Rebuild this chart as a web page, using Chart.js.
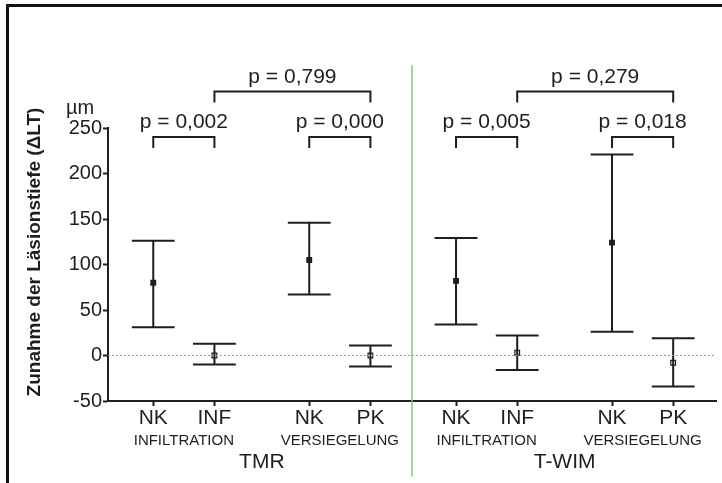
<!DOCTYPE html>
<html>
<head>
<meta charset="utf-8">
<script src="https://cdn.jsdelivr.net/npm/chart.js@4.4.1/dist/chart.umd.min.js"></script>
<style>
  html, body { margin: 0; padding: 0; background: #fff; }
  #wrap { position: relative; width: 722px; height: 483px; }
  #frame { position: absolute; left: 6px; top: 4px; right: 0; bottom: 0; border-top: 3px solid #111; border-left: 3px solid #111; pointer-events: none; }
</style>
</head>
<body>
<div id="wrap">
  <canvas id="chart" width="722" height="483"></canvas>
  <div id="frame"></div>
</div>
<script>
const categories = ['NK', 'INF', 'NK', 'PK', 'NK', 'INF', 'NK', 'PK'];
const xPositions = [1, 2, 3.55, 4.55, 5.95, 6.95, 8.5, 9.5];
const means = [80, 0, 105, 0, 82, 3, 124, -8];
const upper = [126, 13, 146, 11, 129, 22, 221, 19];
const lower = [31, -10, 67, -12, 34, -16, 26, -34];
const filledMarker = [true, false, true, false, true, false, true, false];

const groupLabels = ['INFILTRATION', 'VERSIEGELUNG', 'INFILTRATION', 'VERSIEGELUNG'];
const groupPositions = [1.5, 4.05, 6.45, 9.0];
const methodLabels = ['TMR', 'T-WIM'];
const methodPositions = [2.775, 7.725];

const yTicks = [-50, 0, 50, 100, 150, 200, 250];

// significance brackets (indices into categories)
const pTexts = ['p = 0,002', 'p = 0,000', 'p = 0,799', 'p = 0,005', 'p = 0,018', 'p = 0,279'];
const pFrom = [0, 2, 1, 4, 6, 5];
const pTo = [1, 3, 3, 5, 7, 7];
const pLevel = [240, 240, 290, 240, 240, 290];

const capHalf = 0.35;
const legDrop = 12;
const xMin = 0.26, xMax = 10.2;
const dividerX = 5.23;

const INK = '#1e1e1e';
const FONT = '"Liberation Sans", Arial, sans-serif';
Chart.defaults.font.family = FONT;

// whiskers: vertical line + two caps per category, gaps between pieces
const whiskerData = [];
xPositions.forEach((x, i) => {
    whiskerData.push({ x: x, y: lower[i] }, { x: x, y: upper[i] }, { x: x, y: null });
    whiskerData.push({ x: x - capHalf, y: upper[i] }, { x: x + capHalf, y: upper[i] }, { x: x, y: null });
    whiskerData.push({ x: x - capHalf, y: lower[i] }, { x: x + capHalf, y: lower[i] }, { x: x, y: null });
});

const bracketData = [];
pTexts.forEach((t, i) => {
    const a = xPositions[pFrom[i]], b = xPositions[pTo[i]];
    bracketData.push({ x: a, y: pLevel[i] - legDrop }, { x: a, y: pLevel[i] },
        { x: b, y: pLevel[i] }, { x: b, y: pLevel[i] - legDrop }, { x: b, y: null });
});

const textPlugin = {
    id: 'texts',
    afterDraw(chart) {
        const ctx = chart.ctx;
        const xs = chart.scales.x, ys = chart.scales.y;
        ctx.save();
        ctx.fillStyle = INK;
        ctx.textAlign = 'center';
        ctx.textBaseline = 'middle';
        ctx.font = '21px ' + FONT;
        pTexts.forEach((t, i) => {
            const mid = (xPositions[pFrom[i]] + xPositions[pTo[i]]) / 2;
            ctx.fillText(t, xs.getPixelForValue(mid), ys.getPixelForValue(pLevel[i] + 16));
        });
        ctx.font = '20px ' + FONT;
        ctx.textAlign = 'left';
        ctx.fillText('µm', chart.chartArea.left - 42, ys.getPixelForValue(250) - 20);

        ctx.textAlign = 'center';
        ctx.translate(35, 252);
        ctx.rotate(-Math.PI / 2);
        ctx.font = 'bold 19px ' + FONT;
        ctx.fillText('Zunahme der Läsionstiefe (ΔLT)', 0, 0);
        ctx.restore();
    }
};

const tickAxis = (positions, labels, size, height, weight, pad) => ({
    type: 'linear',
    position: 'bottom',
    weight: weight,
    min: xMin,
    max: xMax,
    afterBuildTicks: (s) => { s.ticks = positions.map(v => ({ value: v })); },
    afterFit: (s) => { s.height = height; },
    grid: { display: false },
    border: { display: false },
    ticks: {
        autoSkip: false,
        maxRotation: 0,
        padding: pad,
        color: INK,
        font: { size: size },
        callback: (v, i) => labels[i]
    }
});

new Chart(document.getElementById('chart'), {
    type: 'line',
    data: {
        datasets: [
            {
                data: [{ x: xMin, y: 0 }, { x: xMax, y: 0 }],
                borderColor: 'rgb(90,180,190)',
                borderWidth: 1,
                borderDash: [2, 2],
                pointRadius: 0
            },
            {
                data: [{ x: dividerX, y: 319 }, { x: dividerX, y: -133 }],
                borderColor: 'rgb(140,195,120)',
                borderWidth: 1.5,
                pointRadius: 0,
                clip: false
            },
            {
                data: whiskerData,
                borderColor: INK,
                borderWidth: 2,
                pointRadius: 0,
                spanGaps: false
            },
            {
                data: bracketData,
                borderColor: INK,
                borderWidth: 2,
                pointRadius: 0,
                spanGaps: false,
                clip: false
            },
            {
                data: xPositions.map((x, i) => ({ x: x, y: means[i] })),
                showLine: false,
                pointStyle: 'rect',
                pointRadius: 3.3,
                pointBackgroundColor: filledMarker.map(f => f ? INK : '#fff'),
                pointBorderColor: INK,
                pointBorderWidth: 1.2
            }
        ]
    },
    options: {
        responsive: false,
        animation: false,
        layout: { padding: { top: 128, right: 6, bottom: 0, left: 0 } },
        plugins: { legend: { display: false }, tooltip: { enabled: false } },
        scales: {
            x: {
                type: 'linear',
                min: xMin,
                max: xMax,
                afterBuildTicks: (s) => { s.ticks = xPositions.map(v => ({ value: v })); },
                afterFit: (s) => { s.height = 23; },
                grid: { drawOnChartArea: false, tickLength: 5, tickWidth: 2, tickColor: INK },
                border: { color: INK, width: 2 },
                ticks: {
                    autoSkip: false,
                    maxRotation: 0,
                    padding: 0,
                    color: INK,
                    font: { size: 21 },
                    callback: (v, i) => categories[i]
                }
            },
            x2: tickAxis(groupPositions, groupLabels, 15, 24, 1, 0),
            x3: tickAxis(methodPositions, methodLabels, 21, 35, 2, -6),
            y: {
                min: -50,
                max: 250,
                afterBuildTicks: (s) => { s.ticks = yTicks.map(v => ({ value: v })); },
                afterFit: (s) => { s.width = 108; },
                grid: { drawOnChartArea: false, tickLength: 5, tickWidth: 2, tickColor: INK },
                border: { color: INK, width: 2 },
                ticks: { padding: 1, color: INK, font: { size: 20 } }
            }
        }
    },
    plugins: [textPlugin]
});
</script>
</body>
</html>
